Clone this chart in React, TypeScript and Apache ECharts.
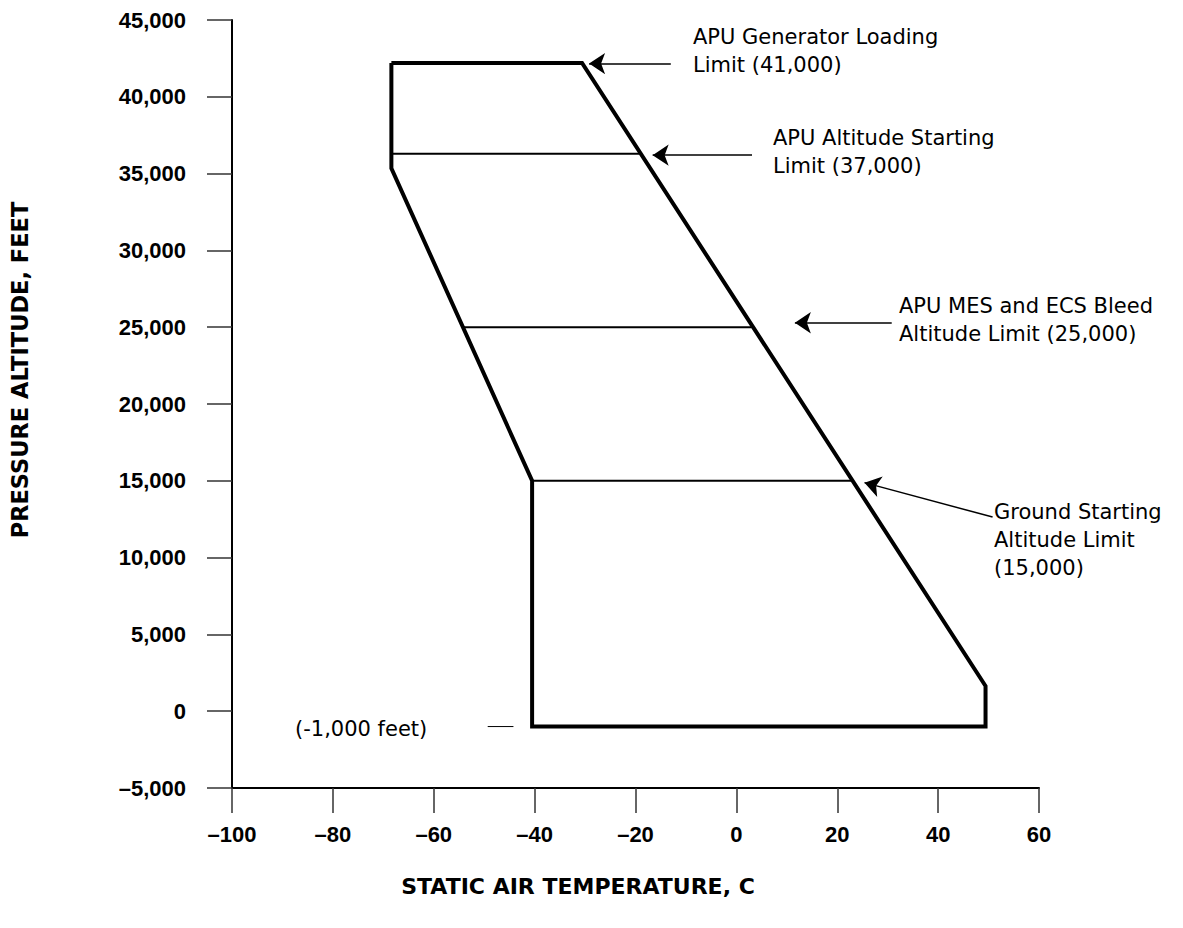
import React, { useEffect, useRef } from "react";
import * as echarts from "echarts";

// Envelope outline (static air temperature C, pressure altitude ft)
const envelopeTemp = [-68.4, -30.6, 49.4, 49.4, -40.5, -40.5, -68.4, -68.4];
const envelopeAlt = [42200, 42200, 1640, -1000, -1000, 15000, 35350, 42200];

// Interior limit lines
const limitStartTemp = [-68.4, -54.2, -40.5];
const limitEndTemp = [-19.2, 3.0, 23.05];
const limitAlt = [36300, 25000, 15000];

// Annotation arrows (tail -> tip), data coords
const arrowTailTemp = [-13.0, 3.1, 30.8, 50.8];
const arrowTailAlt = [42160, 36200, 25290, 12640];
const arrowTipTemp = [-29.2, -16.6, 11.6, 25.4];
const arrowTipAlt = [42160, 36200, 25290, 14880];

// -1,000 ft marker dash
const dashTemp = [-49.3, -44.2];
const dashAlt = [-1000, -1000];

const annotationTexts = [
  "APU Generator Loading\nLimit (41,000)",
  "APU Altitude Starting\nLimit (37,000)",
  "APU MES and ECS Bleed\nAltitude Limit (25,000)",
  "Ground Starting\nAltitude Limit\n(15,000)",
];
const annotationPos = [
  [693, 23],
  [773, 123.5],
  [899, 291.5],
  [994, 497.5],
];

const xTicks = { min: -100, max: 60, interval: 20 };
const yTicks = { min: -5000, max: 45000, interval: 5000 };

const fmt = (v: number) => {
  const s = Math.abs(v).toLocaleString("en-US");
  return v < 0 ? "\u2013" + s : s;
};

export default function App() {
  const ref = useRef<HTMLDivElement>(null);
  useEffect(() => {
    if (!ref.current) return;
    const chart = echarts.init(ref.current, null, { renderer: "svg" });
    const labelFont = "DejaVu Sans";
    const tickFont = "Liberation Sans";
    const series: any[] = [];
    series.push({
      type: "line",
      data: envelopeTemp.map((t, i) => [t, envelopeAlt[i]]),
      symbol: "none",
      lineStyle: { color: "#000", width: 4, join: "miter" },
      silent: true,
    });
    limitAlt.forEach((a, i) => {
      series.push({
        type: "line",
        data: [
          [limitStartTemp[i], a],
          [limitEndTemp[i], a],
        ],
        symbol: "none",
        lineStyle: { color: "#000", width: 2 },
        silent: true,
      });
    });
    series.push({
      type: "line",
      data: dashTemp.map((t, i) => [t, dashAlt[i]]),
      symbol: "none",
      lineStyle: { color: "#000", width: 1 },
      silent: true,
    });
    series.push({
      type: "lines",
      coordinateSystem: "cartesian2d",
      symbol: ["none", "arrow"],
      symbolSize: [12, 16],
      lineStyle: { color: "#000", width: 1.5, opacity: 1 },
      itemStyle: { color: "#000" },
      data: arrowTailTemp.map((t, i) => ({
        coords: [
          [t, arrowTailAlt[i]],
          [arrowTipTemp[i], arrowTipAlt[i]],
        ],
      })),
      silent: true,
    });

    const graphic: any[] = annotationTexts.map((txt, i) => ({
      type: "text",
      x: annotationPos[i][0],
      y: annotationPos[i][1],
      style: {
        text: txt,
        font: `21px "${labelFont}"`,
        lineHeight: 28,
        fill: "#000",
        verticalAlign: "top",
        align: "left",
      },
    }));
    graphic.push({
      type: "text",
      x: 295,
      y: 729,
      style: {
        text: "(-1,000 feet)",
        font: `21px "${labelFont}"`,
        fill: "#000",
        verticalAlign: "middle",
        align: "left",
      },
    });
    graphic.push({
      type: "text",
      x: 578,
      y: 886,
      style: {
        text: "STATIC AIR TEMPERATURE, C",
        font: `bold 22px "${labelFont}"`,
        fill: "#000",
        verticalAlign: "middle",
        align: "center",
      },
    });
    graphic.push({
      type: "text",
      x: 20,
      y: 370,
      rotation: Math.PI / 2,
      style: {
        text: "PRESSURE ALTITUDE, FEET",
        font: `bold 22.5px "${labelFont}"`,
        fill: "#000",
        verticalAlign: "middle",
        align: "center",
      },
    });

    chart.setOption({
      animation: false,
      backgroundColor: "#fff",
      grid: { left: 232, right: 144, top: 20, bottom: 140, containLabel: false },
      xAxis: {
        type: "value",
        min: xTicks.min,
        max: xTicks.max,
        interval: xTicks.interval,
        splitLine: { show: false },
        axisLine: { show: true, onZero: false, lineStyle: { color: "#000", width: 2 } },
        axisTick: { show: true, length: 25, lineStyle: { color: "#333", width: 1.5 } },
        axisLabel: {
          margin: 35,
          color: "#000",
          fontFamily: tickFont,
          fontWeight: "bold",
          fontSize: 22,
          formatter: (v: number) => fmt(v),
        },
      },
      yAxis: {
        type: "value",
        min: yTicks.min,
        max: yTicks.max,
        interval: yTicks.interval,
        splitLine: { show: false },
        axisLine: { show: true, onZero: false, lineStyle: { color: "#000", width: 2 } },
        axisTick: { show: true, length: 25, lineStyle: { color: "#333", width: 1.5 } },
        axisLabel: {
          margin: 46,
          color: "#000",
          fontFamily: tickFont,
          fontWeight: "bold",
          fontSize: 22,
          formatter: (v: number) => fmt(v),
        },
      },
      series,
      graphic,
    });
    return () => chart.dispose();
  }, []);
  return (
    <div
      ref={ref}
      style={{ position: "fixed", left: 0, top: 0, width: 1183, height: 928, background: "#fff" }}
    />
  );
}
